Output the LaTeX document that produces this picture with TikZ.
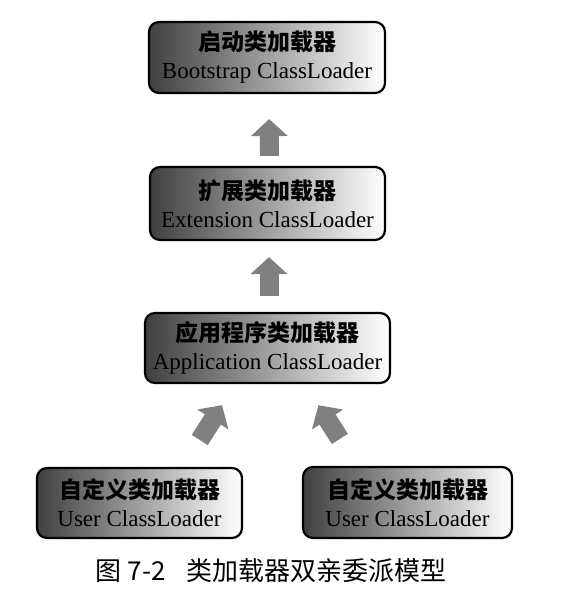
\documentclass[tikz,border=0pt]{standalone}
\usepackage{fontspec}
\setmainfont{Liberation Serif}
\newfontfamily\cjk{Noto Sans CJK SC}
\usepackage{tikz}
\usetikzlibrary{arrows.meta}

\begin{document}
\begin{tikzpicture}[x=1pt,y=-1pt,
loader/.style={draw,line width=2.2pt,rounded corners=10pt,
  left color=black!75,middle color=black!22,right color=white,
  align=center,inner sep=0pt,font=\fontsize{23}{28}\selectfont},
flow/.style={draw=black!50,line width=19pt,
  -{Triangle[width=36pt,length=17pt,fill=black!50]}}]

\useasboundingbox (0,0) rectangle (586,609);

\node[loader,minimum width=236pt,minimum height=71pt] (boot) at (267,57.5)
  {{\cjk\bfseries 启动类加载器}\\Bootstrap ClassLoader};
\node[loader,minimum width=235pt,minimum height=73pt] (ext) at (267.5,203.5)
  {{\cjk\bfseries 扩展类加载器}\\Extension ClassLoader};
\node[loader,minimum width=245pt,minimum height=70pt] (app) at (267.5,348)
  {{\cjk\bfseries 应用程序类加载器}\\Application ClassLoader};
\node[loader,minimum width=205pt,minimum height=70pt] (user1) at (139.5,503)
  {{\cjk\bfseries 自定义类加载器}\\User ClassLoader};
\node[loader,minimum width=209pt,minimum height=71pt] (user2) at (407.5,502.5)
  {{\cjk\bfseries 自定义类加载器}\\User ClassLoader};

\draw[flow,shorten <=10pt,shorten >=25pt] ([xshift=2pt]ext.north) -- ([xshift=2pt]boot.south);
\draw[flow,shorten <=16pt,shorten >=16pt] ([xshift=1.5pt]app.north) -- ([xshift=1.5pt]ext.south);
\draw[flow,shorten <=32pt,shorten >=25pt] ([xshift=43pt]user1.north) -- ([xshift=-32pt]app.south);
\draw[flow,shorten <=32pt,shorten >=25pt] ([xshift=-50.5pt]user2.north) -- ([xshift=37.5pt]app.south);

\node[font=\fontsize{26}{30}\selectfont\cjk] (cap) at (271,571)
  {图 7-2\hspace{0.8em}类加载器双亲委派模型};

\end{tikzpicture}
\end{document}
